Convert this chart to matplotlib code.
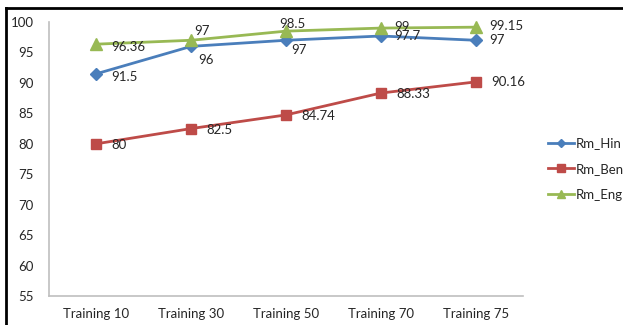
import matplotlib
matplotlib.use("Agg")
import matplotlib.pyplot as plt
from matplotlib.lines import Line2D

categories = ["Training 10", "Training 30", "Training 50", "Training 70", "Training 75"]
rm_hindi = [91.5, 96, 97, 97.7, 97]
rm_bengali = [80, 82.5, 84.74, 88.33, 90.16]
rm_english = [96.36, 97, 98.5, 99, 99.15]
series_names = ["Rm_Hin", "Rm_Ben", "Rm_Eng"]
y_ticks = [55, 60, 65, 70, 75, 80, 85, 90, 95, 100]

plt.rcParams["font.family"] = ["Lato", "DejaVu Sans"]

W, H = 623, 325
fig = plt.figure(figsize=(W / 100, H / 100), dpi=100)
ax = fig.add_axes([49 / W, 1 - 296 / H, (523 - 49) / W, (296 - 22) / H])

x = list(range(len(categories)))
styles = [
    (rm_hindi, "#4A7EBB", "D", 6.0),
    (rm_bengali, "#BE4B48", "s", 7.5),
    (rm_english, "#98B954", "^", 8.0),
]
lines = []
for (vals, col, mk, ms), name in zip(styles, series_names):
    ln, = ax.plot(x, vals, color=col, lw=2.0, marker=mk, markersize=ms,
                  markerfacecolor=col, markeredgecolor=col, label=name,
                  clip_on=False, zorder=3)
    lines.append(ln)

# data-label offsets in points (dx, dy), per series
offsets = [
    [(11, -2), (5, -10), (4, -7), (10, 0), (10, 0)],
    [(11, -1), (11, -1), (11, -1), (11, -1), (11, 0)],
    [(11, -2), (2, 7), (-5, 5), (10, 1), (10, 1)],
]
for (vals, col, mk, ms), offs in zip(styles, offsets):
    for xi, v, (dx, dy) in zip(x, vals, offs):
        ax.annotate(f"{v:g}", (xi, v), xytext=(dx, dy), textcoords="offset points",
                    ha="left", va="center", fontsize=9.5, color="#262626", zorder=4)

ax.set_xlim(-0.5, len(categories) - 0.5)
ax.set_ylim(55, 100)
ax.set_yticks(y_ticks)
ax.set_xticks(x)
ax.set_xticklabels(categories)
ax.tick_params(axis="both", length=0, labelsize=9.5, colors="#262626")
ax.tick_params(axis="y", pad=11)
ax.tick_params(axis="x", pad=9)
for s in ["top", "right"]:
    ax.spines[s].set_visible(False)
for s in ["left", "bottom"]:
    ax.spines[s].set_color("#BFBFBF")
    ax.spines[s].set_linewidth(1.2)

leg = fig.legend(handles=lines, labels=series_names, loc="center left",
                 bbox_to_anchor=(541 / W, 1 - 169 / H), frameon=False,
                 fontsize=9.5, handlelength=2.0, handletextpad=0.15,
                 labelspacing=1.05, borderpad=0, markerscale=0.75)
for t in leg.get_texts():
    t.set_color("#262626")

# black frame along top and left edges
fig.add_artist(Line2D([5.5 / W, 1], [1 - 7.5 / H, 1 - 7.5 / H], transform=fig.transFigure,
                      color="black", lw=2))
fig.add_artist(Line2D([5.5 / W, 5.5 / W], [0, 1 - 7.5 / H], transform=fig.transFigure,
                      color="black", lw=2))

fig.savefig("out.png", dpi=100)
